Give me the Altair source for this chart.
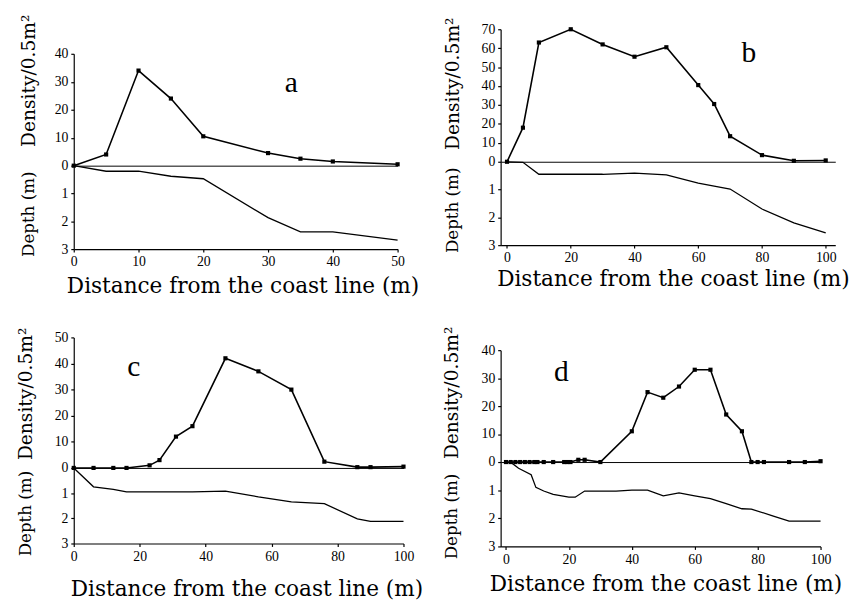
import altair as alt
import pandas as pd

# ---------------- data ----------------
a_dist = [0, 5, 10, 15, 20, 30, 35, 40, 50]
a_dens = [0, 4, 34, 24, 10.5, 4.5, 2.5, 1.5, 0.5]
a_depth_x = [0, 5, 10, 15, 20, 30, 35, 40, 50]
a_depth = [0, 0.2, 0.2, 0.38, 0.47, 1.87, 2.38, 2.38, 2.68]

b_dist = [0, 5, 10, 20, 30, 40, 50, 60, 65, 70, 80, 90, 100]
b_dens = [0, 18, 63, 70, 62, 55.5, 60.5, 40.5, 30.5, 13.5, 3.5, 0.5, 0.7]
b_depth_x = [0, 5, 10, 20, 30, 40, 50, 60, 65, 70, 80, 90, 100]
b_depth = [0, 0.02, 0.45, 0.45, 0.45, 0.41, 0.47, 0.77, 0.88, 0.98, 1.7, 2.2, 2.56]

c_dist = [0, 6, 12, 16, 23, 26, 31, 36, 46, 56, 66, 76, 86, 90, 100]
c_dens = [0, 0, 0, 0, 1, 3, 12, 16, 42, 37, 30, 2.4, 0.3, 0.3, 0.5]
c_depth_x = [0, 6, 12, 16, 36, 46, 56, 66, 76, 86, 90, 100]
c_depth = [0, 0.75, 0.85, 0.95, 0.95, 0.92, 1.15, 1.35, 1.42, 2.02, 2.12, 2.12]

d_dist = [0, 1.5, 3, 4.5, 6, 7.5, 9, 10, 12, 15, 18.5, 19.5, 20.5, 23, 25, 30,
          40, 45, 50, 55, 60, 65, 70, 75, 78, 80, 82, 90, 95, 100]
d_dens = [0, 0, 0, 0, 0, 0, 0, 0, 0, 0, 0, 0, 0, 0.8, 0.8, 0,
          11, 25, 23, 27, 33, 33, 17, 11, 0, 0, 0, 0, 0, 0.3]
d_depth_x = [0, 2, 4, 8, 9.5, 12, 15, 20, 22, 25, 35, 40, 45, 50, 55, 60, 65,
             70, 75, 78, 85, 90, 100]
d_depth = [0, 0.05, 0.22, 0.45, 0.9, 1.03, 1.15, 1.25, 1.25, 1.03, 1.03, 1.0,
           1.0, 1.2, 1.1, 1.2, 1.3, 1.48, 1.66, 1.67, 1.92, 2.1, 2.1]

# panel letters and where they sit (in data units of each density plot)
panel_letters = ["a", "b", "c", "d"]
letter_x = [33.6, 75.9, 18.2, 17.6]
letter_y = [29.5, 57.6, 38.7, 32.3]

density_ticks = {"a": [0, 10, 20, 30, 40], "b": [0, 10, 20, 30, 40, 50, 60, 70],
                 "c": [0, 10, 20, 30, 40, 50], "d": [0, 10, 20, 30, 40]}
depth_ticks = [1, 2, 3]
x_ticks = {"a": [0, 10, 20, 30, 40, 50], "b": [0, 20, 40, 60, 80, 100],
           "c": [0, 20, 40, 60, 80, 100], "d": [0, 20, 40, 60, 80, 100]}

TITLE_FONT = "DejaVu Serif"
LABEL_FONT = "Liberation Serif"
XTITLE = "Distance from the coast line (m)"

common_axis = dict(grid=False, domainColor="black", domainWidth=1.2,
                   tickColor="black", tickSize=3, tickWidth=1.2,
                   labelColor="black", labelFont=LABEL_FONT, labelFontSize=14,
                   labelPadding=3, labelOverlap=False, labelFlush=False,
                   titleFont=TITLE_FONT, titleFontWeight="normal",
                   titleColor="black")


def spacer(w, h):
    return alt.Chart(pd.DataFrame({"z": [0]})).mark_point(opacity=0).encode(
        x=alt.value(0), y=alt.value(0)).properties(width=w, height=h)


def panel(idx, dist, dens, dx, depth, xdom, ymax, W, Ht, Hb,
          dens_ty, depth_ty, tx, xshift, xty, top_gap):
    letter = panel_letters[idx]
    dd = pd.DataFrame({"x": dist, "y": dens})
    ld = pd.DataFrame({"x": [letter_x[idx]], "y": [letter_y[idx]], "t": [letter]})
    dp = pd.DataFrame({"x": dx, "d": depth})
    xs = alt.Scale(domain=xdom, nice=False, zero=False)
    ys = alt.Scale(domain=[0, ymax], nice=False)
    ytop = alt.Y("y:Q", scale=ys,
                 axis=alt.Axis(values=density_ticks[letter], title="Density/0.5m²",
                               titleX=tx, titleY=dens_ty, titleAngle=270,
                               titleAlign="center", titleBaseline="middle",
                               titleFontSize=19, **common_axis))
    # the x axis of the density plot is only its domain line: the zero line
    xtop = alt.X("x:Q", scale=xs,
                 axis=alt.Axis(labels=False, ticks=False, title=None, domain=True,
                               domainColor="black", domainWidth=1, grid=False))
    line = alt.Chart(dd).mark_line(color="black", strokeWidth=1.6).encode(
        x=xtop, y=ytop)
    pts = alt.Chart(dd).mark_point(shape="square", filled=True, size=18,
                                   color="black", opacity=1).encode(x=xtop, y=ytop)
    lab = alt.Chart(ld).mark_text(font=LABEL_FONT, fontSize=30, color="black",
                                  align="center", baseline="middle").encode(
        x=xtop, y=ytop, text="t:N")
    top = alt.layer(line, pts, lab).properties(width=W, height=Ht)

    ybot = alt.Y("d:Q", scale=alt.Scale(domain=[0, 3], reverse=True, nice=False),
                 axis=alt.Axis(values=depth_ticks, title="Depth (m)",
                               titleX=tx, titleY=depth_ty, titleAngle=270,
                               titleAlign="center", titleBaseline="middle",
                               titleFontSize=17, **common_axis))
    bot = alt.Chart(dp).mark_line(color="black", strokeWidth=1.3).encode(
        x=alt.X("x:Q", scale=xs,
                axis=alt.Axis(values=x_ticks[letter], title=XTITLE,
                              titleX=W / 2 + xshift, titleY=xty,
                              titleAlign="center", titleBaseline="middle",
                              titleFontSize=22, **common_axis)),
        y=ybot).properties(width=W, height=Hb)
    items = [top, bot]
    if top_gap > 0:
        items = [spacer(W, top_gap)] + items
    return alt.vconcat(*items, spacing=0, bounds="flush")


pa = panel(0, a_dist, a_dens, a_depth_x, a_depth, [0, 50], 40, 330, 114, 85,
           27, 49, -46, 7, 37, 25)
pb = panel(1, b_dist, b_dens, b_depth_x, b_depth, [-2, 103], 70, 341, 135, 85,
           55, 49, -49, 5, 34, 0)
pc = panel(2, c_dist, c_dens, c_depth_x, c_depth, [0, 100], 50, 336, 133, 77,
           57, 46, -49, 8, 46, 0)
pd_ = panel(3, d_dist, d_dens, d_depth_x, d_depth, [-1.7, 100], 40, 326, 114, 86,
            43, 55, -50, 5, 38, 13)

chart = alt.concat(pa, pb, pc, pd_, columns=2,
                   spacing={"row": 30, "column": 20}).properties(
    padding={"left": 9, "top": 0, "right": 0, "bottom": 0},
    background="white",
).configure_view(stroke=None).configure_axis(
    labelFont=LABEL_FONT, labelFontSize=14, labelColor="black",
    labelOverlap=False, titleFont=TITLE_FONT, titleColor="black",
)

chart.save("out.html", embed_options={"renderer": "svg", "actions": False})
